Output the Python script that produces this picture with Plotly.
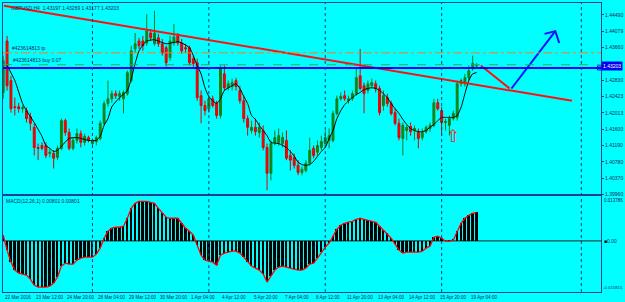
import plotly.graph_objects as go

# ---------------- data ----------------
bars = list(range(1, 124))
opens = [1.4253, 1.4383, 1.4283, 1.4217, 1.4217, 1.4212, 1.4207, 1.4192, 1.4165, 1.4114,
         1.4119, 1.4119, 1.4099, 1.4099, 1.4089, 1.4112, 1.4182, 1.4152, 1.4112, 1.4132,
         1.4149, 1.4127, 1.4139, 1.4124, 1.4129, 1.4137, 1.4175, 1.4225, 1.4237, 1.4250,
         1.4243, 1.4237, 1.4250, 1.4283, 1.4363, 1.4383, 1.4383, 1.4378, 1.4403, 1.4376,
         1.4391, 1.4376, 1.4366, 1.4341, 1.4378, 1.4396, 1.4378, 1.4366, 1.4366, 1.4338,
         1.4328, 1.4245, 1.4220, 1.4212, 1.4237, 1.4225, 1.4195, 1.4300, 1.4265, 1.4268,
         1.4283, 1.4258, 1.4232, 1.4187, 1.4157, 1.4165, 1.4152, 1.4157, 1.4114, 1.4049,
         1.4127, 1.4127, 1.4124, 1.4132, 1.4094, 1.4089, 1.4069, 1.4051, 1.4056, 1.4074,
         1.4112, 1.4102, 1.4114, 1.4124, 1.4132, 1.4132, 1.4200, 1.4237, 1.4245, 1.4232,
         1.4237, 1.4250, 1.4295, 1.4270, 1.4258, 1.4270, 1.4275, 1.4263, 1.4220, 1.4240,
         1.4225, 1.4202, 1.4175, 1.4137, 1.4157, 1.4167, 1.4157, 1.4152, 1.4139, 1.4154,
         1.4162, 1.4170, 1.4227, 1.4207, 1.4177, 1.4170, 1.4187, 1.4190, 1.4275, 1.4275,
         1.4290, 1.4313, 1.43197]
highs = [1.4346, 1.4396, 1.4295, 1.4240, 1.4227, 1.4220, 1.4215, 1.4202, 1.4175, 1.4124,
         1.4127, 1.4127, 1.4112, 1.4107, 1.4119, 1.4187, 1.4187, 1.4162, 1.4139, 1.4162,
         1.4157, 1.4149, 1.4144, 1.4137, 1.4144, 1.4182, 1.4232, 1.4283, 1.4258, 1.4258,
         1.4258, 1.4258, 1.4308, 1.4371, 1.4403, 1.4391, 1.4396, 1.4451, 1.4413, 1.4459,
         1.4401, 1.4388, 1.4371, 1.4396, 1.4426, 1.4403, 1.4388, 1.4376, 1.4371, 1.4346,
         1.4338, 1.4258, 1.4232, 1.4245, 1.4245, 1.4232, 1.4321, 1.4321, 1.4283, 1.4288,
         1.4290, 1.4270, 1.4245, 1.4195, 1.4182, 1.4187, 1.4177, 1.4170, 1.4124, 1.4132,
         1.4157, 1.4162, 1.4152, 1.4157, 1.4107, 1.4099, 1.4082, 1.4066, 1.4082, 1.4139,
         1.4119, 1.4132, 1.4144, 1.4157, 1.4162, 1.4207, 1.4245, 1.4253, 1.4258, 1.4245,
         1.4258, 1.4316, 1.4363, 1.4278, 1.4283, 1.4288, 1.4283, 1.4270, 1.4258, 1.4250,
         1.4232, 1.4212, 1.4187, 1.4177, 1.4170, 1.4177, 1.4170, 1.4162, 1.4162, 1.4170,
         1.4177, 1.4237, 1.4237, 1.4217, 1.4187, 1.4195, 1.4207, 1.4283, 1.4288, 1.4300,
         1.4321, 1.4346, 1.43269]
lows = [1.4237, 1.4258, 1.4202, 1.4195, 1.4202, 1.4202, 1.4177, 1.4157, 1.4094, 1.4082,
        1.4107, 1.4087, 1.4089, 1.4061, 1.4082, 1.4107, 1.4144, 1.4107, 1.4107, 1.4124,
        1.4114, 1.4119, 1.4127, 1.4114, 1.4119, 1.4132, 1.4170, 1.4217, 1.4227, 1.4237,
        1.4232, 1.4200, 1.4245, 1.4278, 1.4353, 1.4363, 1.4358, 1.4371, 1.4383, 1.4371,
        1.4368, 1.4346, 1.4318, 1.4333, 1.4371, 1.4371, 1.4351, 1.4353, 1.4321, 1.4318,
        1.4232, 1.4175, 1.4195, 1.4202, 1.4215, 1.4187, 1.4187, 1.4258, 1.4258, 1.4258,
        1.4258, 1.4225, 1.4177, 1.4144, 1.4149, 1.4144, 1.4139, 1.4107, 1.4006, 1.4031,
        1.4119, 1.4119, 1.4114, 1.4082, 1.4056, 1.4061, 1.4044, 1.4044, 1.4051, 1.4069,
        1.4087, 1.4094, 1.4107, 1.4114, 1.4112, 1.4127, 1.4195, 1.4232, 1.4232, 1.4225,
        1.4232, 1.4245, 1.4258, 1.4200, 1.4250, 1.4263, 1.4253, 1.4195, 1.4207, 1.4217,
        1.4195, 1.4170, 1.4132, 1.4094, 1.4132, 1.4144, 1.4132, 1.4112, 1.4132, 1.4149,
        1.4154, 1.4165, 1.4207, 1.4144, 1.4157, 1.4144, 1.4182, 1.4182, 1.4268, 1.4268,
        1.4283, 1.4308, 1.43177]
closes = [1.4333, 1.4270, 1.4212, 1.4215, 1.4212, 1.4215, 1.4187, 1.4175, 1.4114, 1.4112,
          1.4112, 1.4094, 1.4102, 1.4087, 1.4112, 1.4182, 1.4152, 1.4112, 1.4132, 1.4149,
          1.4127, 1.4142, 1.4132, 1.4132, 1.4139, 1.4175, 1.4225, 1.4237, 1.4250, 1.4245,
          1.4250, 1.4253, 1.4303, 1.4358, 1.4376, 1.4371, 1.4371, 1.4408, 1.4391, 1.4403,
          1.4376, 1.4353, 1.4328, 1.4383, 1.4393, 1.4378, 1.4358, 1.4363, 1.4328, 1.4326,
          1.4240, 1.4220, 1.4207, 1.4237, 1.4220, 1.4195, 1.4313, 1.4265, 1.4275, 1.4278,
          1.4268, 1.4232, 1.4187, 1.4165, 1.4165, 1.4154, 1.4165, 1.4114, 1.4049, 1.4124,
          1.4139, 1.4144, 1.4139, 1.4087, 1.4082, 1.4069, 1.4051, 1.4059, 1.4074, 1.4107,
          1.4094, 1.4119, 1.4129, 1.4139, 1.4144, 1.4200, 1.4237, 1.4243, 1.4237, 1.4237,
          1.4250, 1.4290, 1.4263, 1.4250, 1.4275, 1.4278, 1.4263, 1.4202, 1.4245, 1.4225,
          1.4200, 1.4175, 1.4139, 1.4170, 1.4165, 1.4154, 1.4162, 1.4137, 1.4152, 1.4165,
          1.4170, 1.4227, 1.4212, 1.4177, 1.4180, 1.4187, 1.4200, 1.4275, 1.4283, 1.4290,
          1.4308, 1.4326, 1.43203]

ma_bars = [2, 4, 6, 7, 9, 11, 12, 13, 14, 15, 16, 18, 20, 23, 25, 26, 27, 28, 29, 31,
           33, 34, 35, 36, 37, 38, 40, 43, 46, 47, 49, 50, 51, 52, 53, 54, 56, 57, 58, 60,
           61, 62, 63, 64, 65, 66, 67, 68, 69, 70, 72, 74, 75, 76, 77, 78, 79, 80, 81, 82,
           83, 84, 85, 86, 87, 88, 89, 90, 91, 92, 93, 94, 95, 96, 97, 98, 99, 100, 101, 102,
           103, 104, 105, 106, 107, 108, 109, 110, 111, 112, 113, 114, 115, 116, 117, 118, 119, 120,
           121, 122, 123]
ma_vals = [1.4321, 1.4283, 1.4225, 1.4207, 1.4177, 1.4142, 1.4119, 1.4112, 1.4104, 1.4107,
           1.4117, 1.4137, 1.4139, 1.4132, 1.4132, 1.4142, 1.4170, 1.4187, 1.4217, 1.4240,
           1.4258, 1.4288, 1.4326, 1.4358, 1.4373, 1.4383, 1.4386, 1.4376, 1.4381, 1.4378,
           1.4366, 1.4346, 1.4321, 1.4300, 1.4265, 1.4243, 1.4225, 1.4237, 1.4258, 1.4270,
           1.4275, 1.4263, 1.4243, 1.4225, 1.4195, 1.4185, 1.4170, 1.4157, 1.4144, 1.4127,
           1.4124, 1.4114, 1.4104, 1.4092, 1.4077, 1.4071, 1.4069, 1.4071, 1.4079, 1.4092,
           1.4104, 1.4114, 1.4137, 1.4157, 1.4187, 1.4207, 1.4222, 1.4232, 1.4240, 1.4248,
           1.4253, 1.4260, 1.4263, 1.4265, 1.4263, 1.4258, 1.4250, 1.4240, 1.4225, 1.4212,
           1.4200, 1.4185, 1.4172, 1.4162, 1.4157, 1.4154, 1.4154, 1.4157, 1.4165, 1.4172,
           1.4182, 1.4190, 1.4190, 1.4190, 1.4190, 1.4195, 1.4215, 1.4250, 1.4283, 1.4300,
           1.4303]

macd = [0.00176, -0.00287, -0.00657, -0.00903, -0.00996, -0.01027, -0.01057, -0.01181, -0.01366, -0.01428,
        -0.01428, -0.01428, -0.01397, -0.01304, -0.01119, -0.00780, -0.00688, -0.00718, -0.00718, -0.00595,
        -0.00533, -0.00503, -0.00503, -0.00503, -0.00410, -0.00225, 0.00083, 0.00299, 0.00392, 0.00422,
        0.00422, 0.00453, 0.00700, 0.01008, 0.01162, 0.01224, 0.01224, 0.01224, 0.01193, 0.01162,
        0.01008, 0.00854, 0.00731, 0.00700, 0.00700, 0.00700, 0.00546, 0.00392, 0.00299, 0.00176,
        -0.00133, -0.00441, -0.00595, -0.00626, -0.00657, -0.00749, -0.00441, -0.00379, -0.00348, -0.00318,
        -0.00318, -0.00379, -0.00503, -0.00657, -0.00780, -0.00842, -0.00903, -0.01027, -0.01273, -0.01088,
        -0.00903, -0.00811, -0.00780, -0.00811, -0.00842, -0.00873, -0.00903, -0.00903, -0.00842, -0.00718,
        -0.00688, -0.00533, -0.00348, -0.00194, -0.00071, 0.00145, 0.00361, 0.00484, 0.00546, 0.00577,
        0.00607, 0.00669, 0.00700, 0.00669, 0.00638, 0.00607, 0.00577, 0.00453, 0.00330, 0.00237,
        0.00083, -0.00102, -0.00287, -0.00379, -0.00348, -0.00348, -0.00348, -0.00348, -0.00318, -0.00225,
        -0.00163, 0.00114, 0.00145, 0.00083, -0.00009, -0.00009, 0.00022, 0.00299, 0.00546, 0.00700,
        0.00792, 0.00854, 0.00885]

price_ticks = [1.44490, 1.44079, 1.43660, 1.42830, 1.42423, 1.42013, 1.41600, 1.41190,
               1.40780, 1.40370, 1.39960]
date_bars = [0.95, 9, 17, 25, 33, 41, 49, 57, 65, 73, 81, 89, 97, 105, 113, 121]
date_labels = ["22 Mar 2016", "23 Mar 12:00", "24 Mar 20:00", "28 Mar 04:00", "29 Mar 12:00",
               "30 Mar 20:00", "1 Apr 04:00", "4 Apr 12:00", "5 Apr 20:00", "7 Apr 04:00",
               "8 Apr 12:00", "11 Apr 20:00", "13 Apr 04:00", "14 Apr 12:00", "15 Apr 20:00",
               "19 Apr 04:00"]
separator_bars = [24, 54, 84, 114, 150]

tp_level = 1.4353
buy_level = 1.4323
hline_level = 1.4315
last_price = 1.43203

trend_bars = [1.2, 147.6]
trend_prices = [1.4472, 1.4232]
red_leg_bars = [124.1, 131.5]
red_leg_prices = [1.4321, 1.4263]
blue_leg_bars = [132.0, 143.3]
blue_leg_prices = [1.4263, 1.4408]
blue_head_bars = [140.5, 143.3, 144.3]
blue_head_prices = [1.4401, 1.4408, 1.4378]
signal_bar = 117
signal_price = 1.4142

macd_top, macd_bottom = 0.013786, -0.015815
price_lo, price_hi = 1.39958, 1.44789
bar_lo, bar_hi = 0.95, 155.07

# ---------------- styling ----------------
BG = "#00ffff"
FRAME = "#1f3f99"
TXT = "#1a2560"
FONT = "Liberation Sans"
FS = 5

fig = go.Figure()

fig.add_trace(go.Candlestick(
    x=bars, open=opens, high=highs, low=lows, close=closes,
    xaxis="x", yaxis="y", whiskerwidth=0, hoverinfo="skip", showlegend=False,
    increasing=dict(line=dict(color="#1b7a1b", width=1), fillcolor="#0c8c0c"),
    decreasing=dict(line=dict(color="#e00000", width=1), fillcolor="#ff0000"),
))
fig.add_trace(go.Scatter(x=ma_bars, y=ma_vals, mode="lines", xaxis="x", yaxis="y",
                         line=dict(color="#000000", width=1, shape="spline", smoothing=0.6),
                         hoverinfo="skip", showlegend=False))
fig.add_trace(go.Scatter(x=trend_bars, y=trend_prices, mode="lines", xaxis="x", yaxis="y",
                         line=dict(color="#ff1010", width=2), hoverinfo="skip", showlegend=False))
fig.add_trace(go.Scatter(x=red_leg_bars, y=red_leg_prices, mode="lines", xaxis="x", yaxis="y",
                         line=dict(color="#ff1010", width=2), hoverinfo="skip", showlegend=False))
fig.add_trace(go.Scatter(x=blue_leg_bars, y=blue_leg_prices, mode="lines", xaxis="x", yaxis="y",
                         line=dict(color="#1010ff", width=2), hoverinfo="skip", showlegend=False))
fig.add_trace(go.Scatter(x=blue_head_bars, y=blue_head_prices, mode="lines", xaxis="x", yaxis="y",
                         line=dict(color="#1010ff", width=2), hoverinfo="skip", showlegend=False))
fig.add_trace(go.Scatter(x=[bar_hi - 0.4], y=[hline_level], mode="markers", xaxis="x", yaxis="y",
                         marker=dict(symbol="square-open", size=4, color="#0000ff",
                                     line=dict(color="#0000ff", width=1)),
                         hoverinfo="skip", showlegend=False, cliponaxis=False))

# MACD
fig.add_trace(go.Bar(x=bars, y=macd, xaxis="x2", yaxis="y2", width=0.5,
                     marker=dict(color="#000000", line=dict(width=0)),
                     hoverinfo="skip", showlegend=False))
fig.add_trace(go.Scatter(x=bars, y=macd, mode="lines", xaxis="x2", yaxis="y2",
                         line=dict(color="#ff0000", width=1.3), hoverinfo="skip", showlegend=False))

shapes = []
shapes.append(dict(type="line", xref="x domain", yref="y", x0=0, x1=1, y0=tp_level, y1=tp_level,
                   line=dict(color="#ff7a1a", width=1, dash="dashdot"), layer="above"))
shapes.append(dict(type="line", xref="x domain", yref="y", x0=0, x1=1, y0=buy_level, y1=buy_level,
                   line=dict(color="#22b24a", width=1, dash="dash"), layer="above"))
shapes.append(dict(type="line", xref="x domain", yref="y", x0=0, x1=1, y0=hline_level, y1=hline_level,
                   line=dict(color="#0000ff", width=2), layer="above"))
shapes.append(dict(type="line", xref="x2 domain", yref="y2", x0=0, x1=1, y0=0, y1=0,
                   line=dict(color="#202020", width=1), layer="below"))
for b in separator_bars:
    shapes.append(dict(type="line", xref="x", yref="paper", x0=b, x1=b, y0=0, y1=1,
                       line=dict(color="#1a3a8a", width=1, dash="dot"), layer="above"))

annotations = []
annotations.append(dict(text="GBPUSD,H4  1.43197 1.43269 1.43177 1.43203", xref="paper", yref="paper",
                        x=0.01, y=1, xanchor="left", yanchor="top", showarrow=False,
                        font=dict(family=FONT, size=FS, color=TXT)))
annotations.append(dict(text="#423614813 tp", xref="x", yref="y", x=2.8, y=tp_level,
                        xanchor="left", yanchor="bottom", showarrow=False,
                        font=dict(family=FONT, size=FS, color=TXT)))
annotations.append(dict(text="#423614813 buy 0.07", xref="x", yref="y", x=3.0, y=buy_level,
                        xanchor="left", yanchor="bottom", showarrow=False,
                        font=dict(family=FONT, size=FS, color=TXT)))
annotations.append(dict(text="⇧", xref="x", yref="y", x=signal_bar, y=signal_price,
                        xanchor="center", yanchor="middle", showarrow=False,
                        font=dict(family="DejaVu Sans", size=17, color="#ff2020")))
annotations.append(dict(text="MACD(12,26,1) 0.00801 0.00801", xref="paper", yref="y2",
                        x=0.002, y=macd_top, xanchor="left", yanchor="top", showarrow=False,
                        font=dict(family=FONT, size=FS, color=TXT)))
annotations.append(dict(text=f"{last_price:.5f}", xref="paper", yref="y", x=1, y=last_price,
                        xanchor="left", yanchor="middle", showarrow=False, bgcolor="#0000ee",
                        borderpad=1, font=dict(family=FONT, size=FS, color="#ffffff")))
annotations.append(dict(text=f"{macd_top:.6f}", xref="paper", yref="y2", x=1, y=macd_top,
                        xanchor="left", yanchor="top", xshift=1, showarrow=False,
                        font=dict(family=FONT, size=4.5, color=TXT)))
annotations.append(dict(text=f"{macd_bottom:.6f}", xref="paper", yref="y2", x=1, y=macd_bottom,
                        xanchor="left", yanchor="bottom", xshift=0, showarrow=False,
                        font=dict(family=FONT, size=4.3, color=TXT)))
annotations.append(dict(text="<span style='color:#000'>■</span>0.00", xref="paper", yref="y2", x=1, y=0,
                        xanchor="left", yanchor="middle", xshift=1, showarrow=False,
                        font=dict(family=FONT, size=FS, color=TXT)))
for b, lab in zip(date_bars, date_labels):
    annotations.append(dict(text=lab, xref="x2", yref="paper", x=b, y=0, xanchor="left",
                            yanchor="top", yshift=-1, showarrow=False,
                            font=dict(family=FONT, size=4.6, color=TXT)))

axis_common = dict(showgrid=False, zeroline=False, showline=True, mirror=True,
                   linecolor=FRAME, linewidth=1.2, fixedrange=True)

fig.update_layout(
    width=625, height=302,
    margin=dict(l=2, r=21, t=2, b=10),
    paper_bgcolor=BG, plot_bgcolor=BG,
    showlegend=False, bargap=0,
    xaxis=dict(domain=[0, 1], range=[bar_lo, bar_hi], anchor="y", showticklabels=False, ticks="",
               rangeslider=dict(visible=False), **axis_common),
    xaxis2=dict(domain=[0, 1], range=[bar_lo, bar_hi], anchor="y2", showticklabels=False, ticks="",
                **axis_common),
    yaxis=dict(domain=[0.338, 1], range=[price_lo, price_hi], anchor="x", side="right",
               tickvals=price_ticks, ticktext=[f"{v:.5f}" for v in price_ticks],
               ticks="outside", ticklen=2, tickcolor=FRAME,
               tickfont=dict(family=FONT, size=FS, color=TXT), **axis_common),
    yaxis2=dict(domain=[0, 0.331], range=[macd_bottom, macd_top], anchor="x2", side="right",
                showticklabels=False, ticks="", **axis_common),
    shapes=shapes, annotations=annotations,
)

fig.write_html("out.html")
